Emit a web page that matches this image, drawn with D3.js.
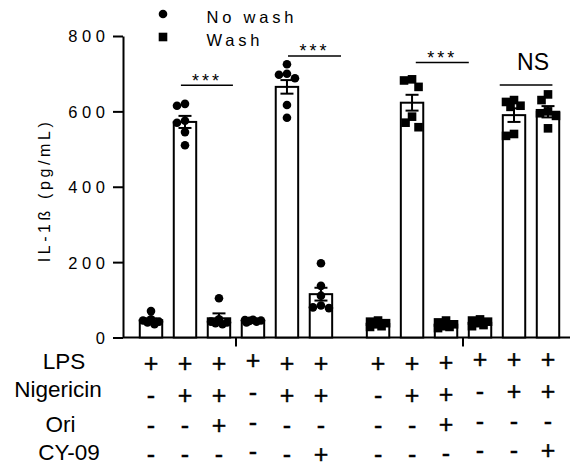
<!DOCTYPE html>
<html>
<head>
<meta charset="utf-8">
<script src="https://cdn.jsdelivr.net/npm/d3@7"></script>
<style>
  html, body { margin: 0; padding: 0; background: #fff; }
  svg { display: block; font-family: "Liberation Sans", Arial, sans-serif; }
</style>
</head>
<body>
<svg id="chart" width="570" height="467"></svg>
<script>
// ---------------- DATA ----------------
const groups = ["No wash", "No wash", "No wash", "No wash", "No wash", "No wash",
                "Wash", "Wash", "Wash", "Wash", "Wash", "Wash"];
const means = [46, 572, 51, 44, 665, 115, 36, 623, 34, 39, 590, 599];
const sems  = [5, 16, 13, 2, 18, 17, 3, 21, 4, 3, 18, 15];
const points = [
  [70, 48, 45, 42, 40, 35],
  [615, 620, 575, 570, 545, 510],
  [104, 48, 42, 40, 38, 35],
  [47, 46, 45, 44, 42, 40],
  [725, 700, 697, 688, 617, 583],
  [197, 137, 111, 85, 80, 78],
  [45, 42, 38, 35, 30, 28],
  [685, 682, 665, 586, 570, 558],
  [45, 40, 35, 30, 28, 25],
  [48, 45, 42, 38, 33, 30],
  [630, 625, 615, 612, 540, 535],
  [645, 630, 600, 595, 588, 555]
];
const yTicks = [0, 200, 400, 600, 800];
const rowLabels = ["LPS", "Nigericin", "Ori", "CY-09"];
const rowSigns = [
  ["+","+","+","+","+","+","+","+","+","+","+","+"],
  ["-","+","+","-","+","+","-","+","+","-","+","+"],
  ["-","-","+","-","-","-","-","-","+","-","-","-"],
  ["-","-","-","-","-","+","-","-","-","-","-","+"]
];
const legendLabels = ["No wash", "Wash"];
const sigLabels = ["***", "***", "***", "NS"];
const sigFrom = [0.88, 4.03, 7.79, 10.26];   // in bar-slot units
const sigTo   = [2.41, 5.59, 9.35, 11.81];
const sigY    = [669, 747, 730, 670];       // in pg/mL
const separators = [2.5, 9.18];              // between bars, slot units

// ---------------- LAYOUT ----------------
const svg = d3.select("#chart");
const axisX = 123, baseY = 337.5, topY = 36;
const y = d3.scaleLinear().domain([0, 800]).range([baseY, topY]);
const xs = d3.scaleLinear().domain([0, 11.68]).range([151, 548]);
const slot = i => i + (i >= 6 ? 0.68 : 0);
const xc = i => xs(slot(i));
const barW = xs(0.66) - xs(0);
const font = "'Liberation Sans', Arial, sans-serif";

// Y axis
const yAxis = d3.axisLeft(y).tickValues(yTicks).tickSize(10).tickSizeOuter(0).tickPadding(0);
const gy = svg.append("g").attr("transform", `translate(${axisX},0)`).call(yAxis);
gy.select(".domain").attr("stroke", "#000").attr("stroke-width", 2);
gy.selectAll(".tick line").attr("stroke", "#000").attr("stroke-width", 2);
gy.selectAll(".tick text")
  .attr("x", -13.5).attr("dy", "0.36em")
  .attr("font-size", 16.5).attr("font-family", font)
  .attr("letter-spacing", 4.6).attr("fill", "#000");

// X axis baseline
svg.append("line").attr("x1", axisX).attr("x2", 570).attr("y1", baseY).attr("y2", baseY)
  .attr("stroke", "#000").attr("stroke-width", 2);
svg.selectAll(".sep").data(separators).enter().append("line")
  .attr("x1", d => xs(d)).attr("x2", d => xs(d))
  .attr("y1", baseY).attr("y2", baseY + 9)
  .attr("stroke", "#000").attr("stroke-width", 2);

// Y label
svg.append("text")
  .attr("transform", `translate(50,190.5) rotate(-90)`)
  .attr("text-anchor", "middle")
  .attr("font-size", 16).attr("font-family", font).attr("letter-spacing", 3.6)
  .text("IL-1ß (pg/mL)");

// Bars
svg.selectAll(".bar").data(means).enter().append("rect")
  .attr("x", (d, i) => xc(i) - barW / 2)
  .attr("width", barW)
  .attr("y", d => y(d))
  .attr("height", d => baseY - y(d))
  .attr("fill", "#fff").attr("stroke", "#000").attr("stroke-width", 2);

// Error bars
const capHalf = 6.5;
means.forEach((m, i) => {
  const g = svg.append("g");
  const cx = xc(i);
  g.append("line").attr("x1", cx).attr("x2", cx)
    .attr("y1", y(m + sems[i])).attr("y2", y(Math.max(0, m - sems[i])))
    .attr("stroke", "#000").attr("stroke-width", 2);
  [m + sems[i], Math.max(0, m - sems[i])].forEach(v => {
    g.append("line").attr("x1", cx - capHalf).attr("x2", cx + capHalf)
      .attr("y1", y(v)).attr("y2", y(v))
      .attr("stroke", "#000").attr("stroke-width", 2);
  });
});

// Points with a simple deterministic dodge
const r = 4.3, sq = 8.6;
const offsets = [0, -6.5, 6.5, -3.5, 3.5, -8, 8];
points.forEach((vals, i) => {
  const cx = xc(i);
  const placed = [];
  const sorted = vals.slice().sort((a, b) => b - a);
  sorted.forEach(v => {
    const py = y(v);
    let best = null, bestD = -1;
    for (const o of offsets) {
      const px = cx + o;
      let dmin = Infinity;
      placed.forEach(p => { dmin = Math.min(dmin, Math.hypot(p[0] - px, p[1] - py)); });
      if (dmin >= 2 * r * 0.95) { best = px; bestD = dmin; break; }
      if (dmin > bestD) { bestD = dmin; best = px; }
    }
    placed.push([best, py]);
  });
  const isWash = groups[i] === "Wash";
  placed.forEach(([px, py]) => {
    if (isWash) {
      svg.append("rect").attr("x", px - sq / 2).attr("y", py - sq / 2)
        .attr("width", sq).attr("height", sq).attr("fill", "#000");
    } else {
      svg.append("circle").attr("cx", px).attr("cy", py).attr("r", r).attr("fill", "#000");
    }
  });
});

// Significance annotations
sigLabels.forEach((lab, k) => {
  const x1 = xs(sigFrom[k]), x2 = xs(sigTo[k]), ly = y(sigY[k]);
  svg.append("line").attr("x1", x1).attr("x2", x2).attr("y1", ly).attr("y2", ly)
    .attr("stroke", "#000").attr("stroke-width", 1.5);
  const isNS = lab === "NS";
  svg.append("text")
    .attr("x", (x1 + x2) / 2 + (isNS ? 7 : 0))
    .attr("y", isNS ? ly - 15 : ly + 1.5)
    .attr("text-anchor", "middle")
    .attr("font-size", isNS ? 23 : 18)
    .attr("font-family", font)
    .attr("letter-spacing", isNS ? 0 : 3)
    .text(lab);
});

// Legend
const lg = svg.append("g");
legendLabels.forEach((lab, k) => {
  const ly = [14, 37][k];
  if (k === 0) lg.append("circle").attr("cx", 163).attr("cy", ly).attr("r", r).attr("fill", "#000");
  else lg.append("rect").attr("x", 163 - sq / 2).attr("y", ly - sq / 2).attr("width", sq).attr("height", sq).attr("fill", "#000");
  lg.append("text").attr("x", 206.5).attr("y", ly + 8.5)
    .attr("font-size", 16.5).attr("font-family", font).attr("letter-spacing", 3.8)
    .text(lab);
});

// Treatment table
const labelX = [64, 58, 60.5, 69];
const labelBase = [368.5, 396.5, 431.5, 460];
const signBase = [372, 403.7, 434, 463.2];
const colShift = [0, 0, 0, -3, 0, 0, 0, 0, -1, -4, -4, -4];
rowLabels.forEach((lab, rI) => {
  svg.append("text").attr("x", labelX[rI]).attr("y", labelBase[rI])
    .attr("text-anchor", "middle").attr("font-size", 22.5).attr("font-family", font)
    .text(lab);
  rowSigns[rI].forEach((s, i) => {
    svg.append("text").attr("x", xc(i)).attr("y", signBase[rI] + colShift[i])
      .attr("text-anchor", "middle").attr("font-size", 25).attr("font-family", font)
      .attr("stroke", "#000").attr("stroke-width", 0.4)
      .text(s);
  });
});
</script>
</body>
</html>
